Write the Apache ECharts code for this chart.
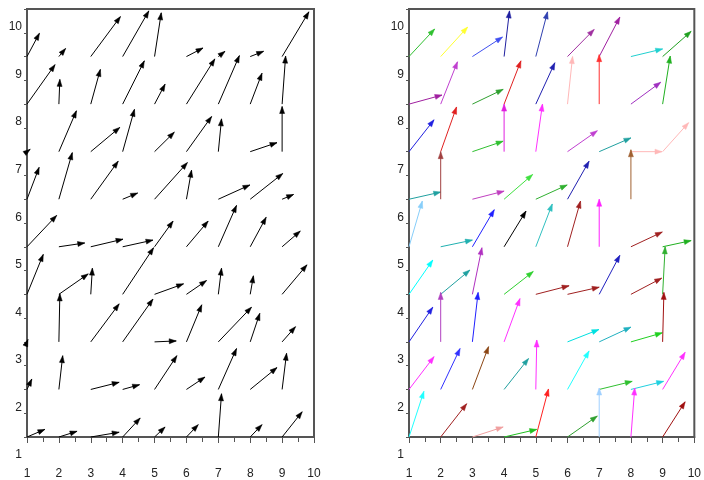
<!DOCTYPE html>
<html>
<head>
<meta charset="utf-8">
<script src="https://cdn.jsdelivr.net/npm/echarts@6/dist/echarts.min.js"></script>
<style>html,body{margin:0;padding:0;background:#fff;}#c{width:704px;height:480px;}</style>
</head>
<body>
<div id="c"></div>
<script>
// grid positions of arrow tails
var colXs = [1, 2, 3, 4, 5, 6, 7, 8, 9];
var rowYs = [9, 8, 7, 6, 5, 4, 3, 2, 1];
var axisTicks = [1, 2, 3, 4, 5, 6, 7, 8, 9, 10];

// left panel (black arrows): components per row, rows from y=9 down to y=1
var leftU = [
  [0.39, 0.21, 0.93, 0.82, 0.21, 0.52, 0.21, 0.42, 0.84],
  [0.88, 0.03, 0.30, 0.68, 0.33, 0.89, 0.66, 0.37, 0.11],
  [0.10, 0.55, 0.91, 0.37, 0.62, 0.79, 0.10, 0.84, 0.00],
  [0.38, 0.42, 0.86, 0.47, 1.03, 0.16, 0.99, 1.02, 0.36],
  [0.93, 0.81, 1.01, 0.95, 0.58, 0.68, 0.57, 0.50, 0.57],
  [0.51, 0.92, 0.05, 0.97, 0.91, 0.63, 0.10, 0.10, 0.78],
  [0.03, 0.03, 0.89, 0.95, 0.68, 0.48, 1.04, 0.30, 0.42],
  [0.15, 0.12, 0.89, 0.53, 0.70, 0.58, 0.57, 0.84, 0.14],
  [0.56, 0.57, 0.89, 0.55, 0.33, 0.37, 0.10, 0.37, 0.63]
];
var leftV = [
  [0.49, 0.17, 0.84, 0.96, 0.92, 0.18, 0.11, 0.11, 0.94],
  [0.83, 0.52, 0.73, 0.91, 0.42, 0.95, 1.02, 0.65, 1.01],
  [0.05, 0.86, 0.51, 0.89, 0.41, 0.74, 0.69, 0.19, 0.95],
  [0.67, 0.98, 0.80, 0.13, 0.77, 0.61, 0.30, 0.54, 0.10],
  [0.66, 0.08, 0.16, 0.14, 0.54, 0.54, 0.87, 0.62, 0.33],
  [0.84, 0.43, 0.55, 0.98, 0.22, 0.29, 0.55, 0.39, 0.62],
  [0.05, 1.01, 0.80, 0.90, 0.02, 0.78, 0.73, 0.60, 0.32],
  [0.22, 0.71, 0.15, 0.10, 0.71, 0.26, 0.86, 0.46, 0.76],
  [0.16, 0.12, 0.10, 0.40, 0.21, 0.26, 0.91, 0.26, 0.53]
];

// right panel (coloured arrows)
var rightU = [
  [0.81, 0.85, 0.95, 0.17, 0.37, 0.84, 0.65, 1.00, 0.90],
  [1.04, 0.53, 0.97, 0.53, 0.60, 0.16, 0.00, 0.94, 0.24],
  [0.79, 0.50, 0.97, 0.00, 0.21, 0.94, 1.00, 0.98, 0.82],
  [1.00, 0.00, 1.00, 0.90, 0.99, 0.68, 0.00, 0.00, 0.00],
  [0.42, 1.00, 0.69, 0.69, 0.52, 0.41, 0.00, 0.99, 0.90],
  [0.75, 0.92, 0.30, 0.92, 1.05, 1.00, 0.65, 0.97, 0.08],
  [0.75, 0.00, 0.18, 0.50, 0.00, 0.99, 1.00, 0.99, 0.04],
  [0.79, 0.61, 0.51, 0.77, 0.03, 0.68, 1.04, 1.03, 0.71],
  [0.47, 0.82, 0.97, 1.03, 0.40, 0.94, 0.00, 0.12, 0.71]
];
var rightV = [
  [0.58, 0.62, 0.41, 0.96, 0.94, 0.57, 0.83, 0.16, 0.53],
  [0.19, 0.89, 0.31, 0.91, 0.87, 1.00, 1.04, 0.46, 1.01],
  [0.67, 0.94, 0.22, 1.00, 1.00, 0.44, 0.29, 0.00, 0.61],
  [0.15, 1.00, 0.17, 0.52, 0.30, 0.80, 0.00, 1.04, 0.00],
  [0.96, 0.14, 0.78, 0.75, 0.90, 0.96, 1.00, 0.31, 0.13],
  [0.72, 0.51, 0.98, 0.48, 0.18, 0.15, 0.82, 0.34, 1.00],
  [0.73, 1.04, 1.04, 0.91, 0.00, 0.26, 0.31, 0.19, 1.04],
  [0.69, 0.86, 0.90, 0.65, 1.04, 0.81, 0.17, 0.17, 0.78],
  [0.96, 0.70, 0.21, 0.16, 1.01, 0.44, 1.03, 1.03, 0.74]
];
var rightColors = [
  ['#30c030', '#ffff30', '#4050f0', '#2020a0', '#3040b0', '#a030a0', '#a020a0', '#20d0d0', '#20a020'],
  ['#a020a0', '#c040d0', '#30a030', '#e02020', '#2020b0', '#ffb8b8', '#ff3030', '#a030c0', '#20b020'],
  ['#2020e0', '#e02020', '#30c030', '#e020e0', '#ff30ff', '#c040d0', '#20a0a0', '#ffb8b8', '#ffb8b8'],
  ['#20a0a0', '#a04040', '#c040c0', '#40e040', '#30b030', '#2020b0', '#ff30ff', '#a06030', '#20b020'],
  ['#87cefa', '#20b0b0', '#2020ff', '#000000', '#30c0c0', '#a02020', '#ff20ff', '#a02020', '#20b020'],
  ['#00ffff', '#20a0a0', '#b030c0', '#30d030', '#a02020', '#a02020', '#2020c0', '#a02020', '#30b030'],
  ['#2020e0', '#b040c0', '#2020ff', '#ff30ff', '#ff30ff', '#00e0e0', '#20b0c0', '#20d020', '#a01010'],
  ['#ff30ff', '#3030ff', '#8b4513', '#20a0a0', '#ff30ff', '#20ffff', '#30c030', '#20d0e0', '#ff30ff'],
  ['#20ffff', '#a02020', '#f0a0a0', '#20c020', '#ff2020', '#30a030', '#a0d0ff', '#ff30ff', '#a01010']
];

function buildData(U, V, colors) {
  var out = [];
  for (var r = 0; r < rowYs.length; r++) {
    for (var c = 0; c < colXs.length; c++) {
      out.push({
        value: [colXs[c], rowYs[r], U[r][c], V[r][c]],
        color: colors ? colors[r][c] : '#000000'
      });
    }
  }
  return out;
}

var leftData = buildData(leftU, leftV, null);
var rightData = buildData(rightU, rightV, rightColors);

function makeRender(data) {
  return function (params, api) {
    var x = api.value(0), y = api.value(1), u = api.value(2), v = api.value(3);
    var p0 = api.coord([x, y]);
    var p1 = api.coord([x + u, y + v]);
    var dx = p1[0] - p0[0], dy = p1[1] - p0[1];
    var len = Math.sqrt(dx * dx + dy * dy);
    if (len < 0.5) return null;
    var ux = dx / len, uy = dy / len;
    var hl = 7, hw = 2.5;
    var bx = p1[0] - ux * hl, by = p1[1] - uy * hl;
    var col = data[params.dataIndex].color;
    return {
      type: 'group',
      children: [
        { type: 'line', shape: { x1: p0[0], y1: p0[1], x2: p1[0], y2: p1[1] },
          style: { stroke: col, lineWidth: 1 } },
        { type: 'polygon', shape: { points: [[p1[0], p1[1]], [bx - uy * hw, by + ux * hw], [bx + uy * hw, by - ux * hw]] },
          style: { fill: col, stroke: col, lineWidth: 0.5 } }
      ]
    };
  };
}

var labelFont = { color: '#222', fontSize: 12, fontFamily: 'Liberation Sans, Arial, sans-serif' };

function xAx(gi) {
  return {
    type: 'value', gridIndex: gi, min: axisTicks[0], max: axisTicks[axisTicks.length - 1], interval: 1,
    axisLine: { show: true, onZero: false, lineStyle: { color: '#555', width: 2 } },
    axisTick: { show: true, length: 6, lineStyle: { color: '#555', width: 1 } },
    minorTick: { show: true, splitNumber: 2, length: 5, lineStyle: { color: '#555', width: 1 } },
    splitLine: { show: false },
    axisLabel: Object.assign({ margin: 31 }, labelFont)
  };
}
function yAx(gi) {
  return {
    type: 'value', gridIndex: gi, min: axisTicks[0], max: axisTicks[axisTicks.length - 1], interval: 1,
    axisLine: { show: true, onZero: false, lineStyle: { color: '#555', width: 2 } },
    axisTick: { show: true, length: 3, lineStyle: { color: '#555', width: 1 } },
    minorTick: { show: true, splitNumber: 2, length: 3, lineStyle: { color: '#555', width: 1 } },
    splitLine: { show: false },
    axisLabel: Object.assign({ margin: 5, verticalAlign: 'top', lineHeight: 36 }, labelFont)
  };
}

var chart = echarts.init(document.getElementById('c'), null, { renderer: 'canvas' });
chart.setOption({
  animation: false,
  backgroundColor: '#ffffff',
  grid: [
    { left: 27, top: 9, width: 287, height: 433, show: true, borderColor: '#555', borderWidth: 2, backgroundColor: 'transparent' },
    { left: 409, top: 9, width: 287, height: 433, show: true, borderColor: '#555', borderWidth: 2, backgroundColor: 'transparent' }
  ],
  xAxis: [xAx(0), xAx(1)],
  yAxis: [yAx(0), yAx(1)],
  series: [
    { type: 'custom', xAxisIndex: 0, yAxisIndex: 0, clip: false, renderItem: makeRender(leftData),
      data: leftData.map(function (d) { return d.value; }) },
    { type: 'custom', xAxisIndex: 1, yAxisIndex: 1, clip: false, renderItem: makeRender(rightData),
      data: rightData.map(function (d) { return d.value; }) }
  ]
});
</script>
</body>
</html>
